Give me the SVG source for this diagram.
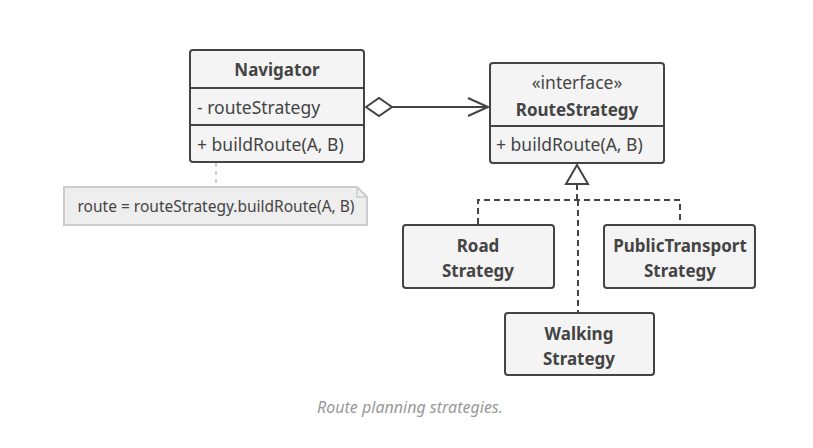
<svg xmlns="http://www.w3.org/2000/svg" width="813" height="448" viewBox="0 0 813 448">
<style>
.box{fill:#f4f4f4;stroke:#444;stroke-width:2}
.div{stroke:#444;stroke-width:2}
.t{font-family:"Noto Sans","Open Sans",sans-serif;font-size:17.5px;fill:#444}
.b{font-weight:bold;font-size:17px}
.c{text-anchor:middle}
.dash{fill:none;stroke:#444;stroke-width:2;stroke-dasharray:6,4}
</style>
<rect width="813" height="448" fill="#fff"/>
<g id="connectors">
<line x1="216" y1="163" x2="216" y2="187" stroke="#ccc" stroke-width="2" stroke-dasharray="4,4"/>
<line x1="392" y1="107" x2="488" y2="107" stroke="#444" stroke-width="2"/>
<polygon points="366,107 379,98 392,107 379,116" fill="#fff" stroke="#444" stroke-width="2"/>
<polyline points="468,98 488,107 468,116" fill="none" stroke="#444" stroke-width="2"/>
<polygon points="577,165 566,184 588,184" fill="#fff" stroke="#444" stroke-width="2"/>
<line x1="577" y1="184" x2="577" y2="200" class="dash"/>
<polyline points="478,224 478,200 680,200 680,224" class="dash"/>
<line x1="578" y1="200" x2="578" y2="313" class="dash"/>
</g>
<g id="navigator">
<rect x="190" y="50" width="174" height="112" rx="3" class="box"/>
<line x1="190" y1="88" x2="364" y2="88" class="div"/>
<line x1="190" y1="125" x2="364" y2="125" class="div"/>
<text x="277" y="76" class="t b c">Navigator</text>
<text x="197" y="114" class="t">- routeStrategy</text>
<text x="197" y="151" class="t">+ buildRoute(A, B)</text>
</g>
<g id="note">
<path d="M64,187 H357 L367,197 V225 H64 Z" fill="#eee" stroke="#ccc" stroke-width="2"/>
<path d="M357,187 V197 H367" fill="none" stroke="#ccc" stroke-width="1.5"/>
<text x="216" y="212" class="t c" style="font-size:15.5px">route = routeStrategy.buildRoute(A, B)</text>
</g>
<g id="routestrategy">
<rect x="490" y="63" width="174" height="100" rx="3" class="box"/>
<line x1="490" y1="126" x2="664" y2="126" class="div"/>
<text x="577" y="89" class="t c">«interface»</text>
<text x="577" y="116" class="t b c">RouteStrategy</text>
<text x="496" y="151" class="t">+ buildRoute(A, B)</text>
</g>
<g id="road">
<rect x="403" y="225" width="151" height="63" rx="3" class="box"/>
<text x="478" y="252" class="t b c">Road</text>
<text x="478" y="277" class="t b c">Strategy</text>
</g>
<g id="publictransport">
<rect x="604" y="225" width="151" height="63" rx="3" class="box"/>
<text x="680" y="252" class="t b c">PublicTransport</text>
<text x="680" y="277" class="t b c">Strategy</text>
</g>
<g id="walking">
<rect x="505" y="313" width="149" height="62" rx="3" class="box"/>
<text x="579" y="340" class="t b c">Walking</text>
<text x="579" y="365" class="t b c">Strategy</text>
</g>
<text x="410" y="413" class="c" style="font-family:'Noto Sans','Open Sans',sans-serif;font-size:16px;font-style:italic;fill:#999">Route planning strategies.</text>
</svg>
